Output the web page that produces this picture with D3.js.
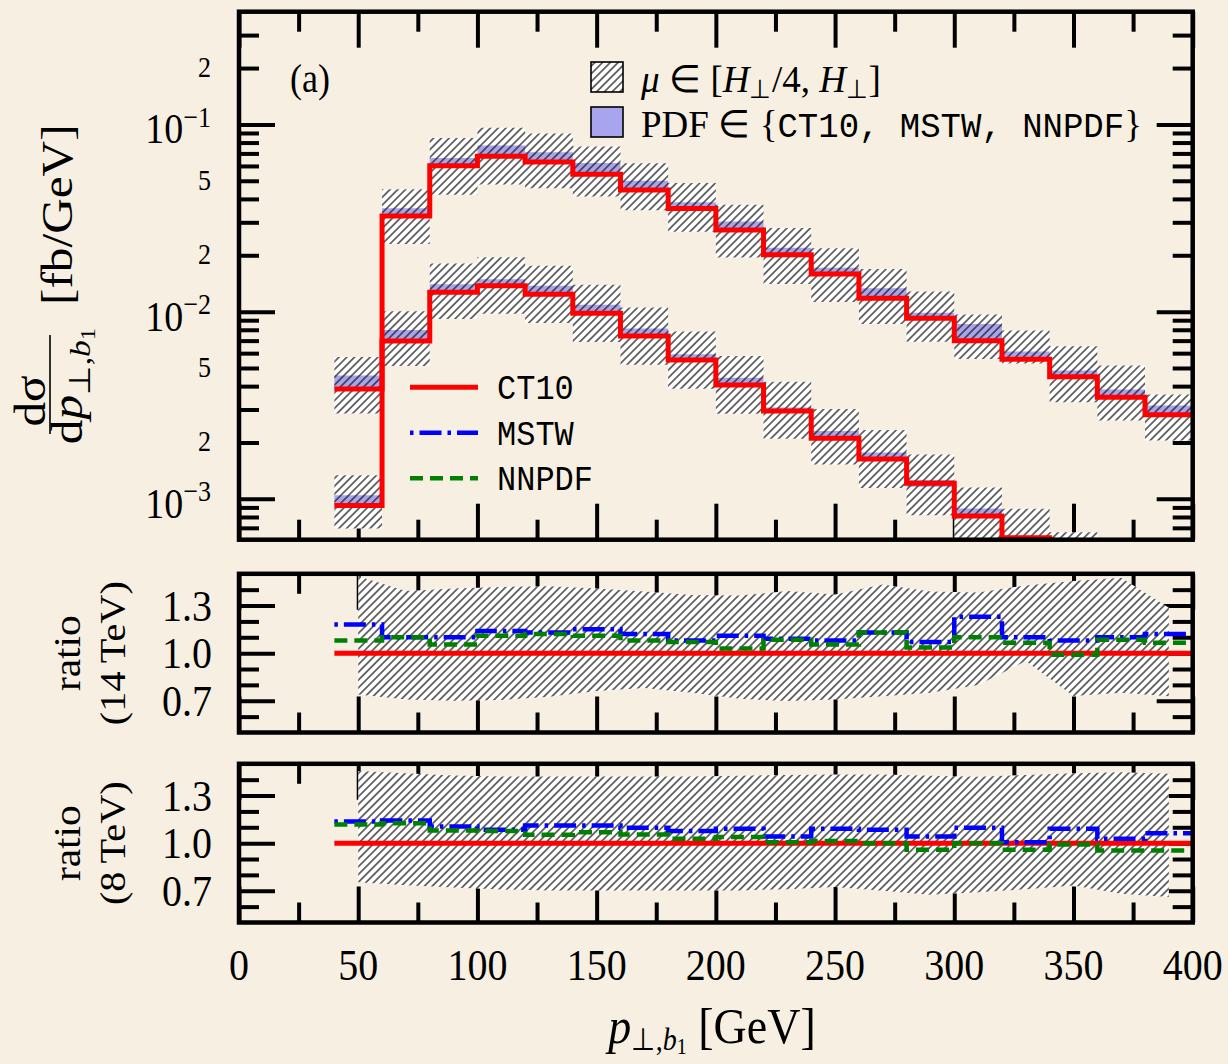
<!DOCTYPE html>
<html>
<head>
<meta charset="utf-8">
<script src="https://cdn.jsdelivr.net/npm/d3@7"></script>
<style>
  html, body { margin: 0; padding: 0; background: #f7f0e2; }
  svg { display: block; }
  text { font-family: "Liberation Serif", "Times New Roman", serif; fill: #000; }
  .tt { font-family: "Liberation Mono", "DejaVu Sans Mono", monospace; }
</style>
</head>
<body>
<svg id="chart" width="1228" height="1064"></svg>
<script>
// ---- data -------------------------------------------------------------
// lower edges of the 20 GeV wide p_T bins
const binLo = [40, 60, 80, 100, 120, 140, 160, 180, 200, 220, 240, 260, 280, 300, 320, 340, 360, 380];
const binHi = 400;

// CT10 central prediction dsigma/dpT [fb/GeV]
const ct10_14TeV = [0.00386, 0.0324, 0.0601, 0.0677, 0.0629, 0.0541, 0.0446, 0.0356, 0.0273, 0.0201,
                    0.0159, 0.0118, 0.00921, 0.00699, 0.00556, 0.00449, 0.00349, 0.00281];
const ct10_8TeV  = [0.00092, 0.00697, 0.01268, 0.01374, 0.01237, 0.00979, 0.00741, 0.00551, 0.00406, 0.00295,
                    0.00211, 0.00163, 0.00121, 0.00081, 0.00062, 0.00046, 0.00034, 0.00026];

// other PDF sets relative to CT10
const mstw_14TeV  = [1.18, 1.10, 1.10, 1.14, 1.13, 1.15, 1.12, 1.08, 1.11, 1.09, 1.08, 1.13, 1.07, 1.23, 1.10, 1.08, 1.10, 1.12];
const nnpdf_14TeV = [1.08, 1.10, 1.055, 1.11, 1.12, 1.11, 1.08, 1.07, 1.03, 1.085, 1.055, 1.13, 1.035, 1.10, 1.065, 0.99, 1.085, 1.065];
const mstw_8TeV   = [1.137, 1.143, 1.105, 1.084, 1.112, 1.112, 1.097, 1.076, 1.091, 1.042, 1.091, 1.084, 1.042, 1.097, 1.006, 1.091, 1.028, 1.063];
const nnpdf_8TeV  = [1.118, 1.126, 1.080, 1.076, 1.053, 1.069, 1.055, 1.028, 1.038, 1.006, 1.013, 1.000, 0.958, 1.000, 0.958, 0.992, 0.954, 0.954];

// scale variation mu in [H/4, H], relative to the central scale
const scaleUp_14TeV   = [1.485, 1.391, 1.408, 1.417, 1.422, 1.408, 1.389, 1.367, 1.364, 1.391, 1.370, 1.433, 1.389, 1.382, 1.427, 1.454, 1.475, 1.286];
const scaleDown_14TeV = [0.740, 0.708, 0.700, 0.705, 0.725, 0.762, 0.780, 0.750, 0.712, 0.698, 0.708, 0.728, 0.750, 0.800, 0.950, 0.730, 0.750, 0.729];
const scaleUp_8TeV    = [1.454, 1.440, 1.427, 1.420, 1.420, 1.420, 1.420, 1.420, 1.425, 1.430, 1.432, 1.432, 1.425, 1.418, 1.430, 1.440, 1.447, 1.437];
const scaleDown_8TeV  = [0.754, 0.735, 0.720, 0.708, 0.702, 0.702, 0.702, 0.702, 0.702, 0.710, 0.723, 0.700, 0.675, 0.690, 0.710, 0.733, 0.681, 0.660];

// axis ticks
const xMajor = [0, 50, 100, 150, 200, 250, 300, 350, 400];
const xMinor = [25, 75, 125, 175, 225, 275, 325, 375];
const logMajor = [1e-3, 1e-2, 1e-1];
const logLabelled = [2e-3, 5e-3, 2e-2, 5e-2, 2e-1];
const ratioMajor = [0.7, 1.0, 1.3];
const ratioMinor = [0.6, 0.8, 0.9, 1.1, 1.2, 1.4];

// ---- styling ----------------------------------------------------------
const BG = "#f7f0e2";
const RED = "#ff0000", BLUE = "#0000ff", GREEN = "#008000", PURPLE = "#a8a4ee";
const STRETCH = 1.12;   // glyphs are a little taller than wide in this figure

const svg = d3.select("#chart");
svg.append("rect").attr("width", 1228).attr("height", 1064).attr("fill", BG);

const defs = svg.append("defs");
const pat = defs.append("pattern")
  .attr("id", "hatch").attr("patternUnits", "userSpaceOnUse")
  .attr("width", 5.5).attr("height", 5.5)
  .attr("patternTransform", "rotate(45)");
pat.append("line").attr("x1", 2.75).attr("y1", -1).attr("x2", 2.75).attr("y2", 6.5)
  .attr("stroke", "#1a1a1a").attr("stroke-width", 1.25);

const x = d3.scaleLinear().domain([0, 400]).range([239, 1192.7]);

const panels = [
  { id: "main", y: d3.scaleLog().domain([6.05e-4, 0.4]).range([539.7, 11.7]) },
  { id: "r14",  y: d3.scaleLinear().domain([0.5, 1.5]).range([732.5, 573.8]) },
  { id: "r8",   y: d3.scaleLinear().domain([0.5, 1.5]).range([922.5, 763.8]) }
];

panels.forEach(p => {
  const [y0, y1] = p.y.range();
  p.top = y1; p.bottom = y0;
  defs.append("clipPath").attr("id", "clip-" + p.id)
    .append("rect").attr("x", x(0)).attr("y", y1).attr("width", x(400) - x(0)).attr("height", y0 - y1);
});

function styleAxis(sel) {
  sel.select(".domain").remove();
  sel.selectAll(".tick line").attr("stroke", "#000").attr("stroke-width", 4);
  sel.selectAll(".tick text").remove();
}

function drawTicks(p, yMajorVals, yMinorVals) {
  const g = svg.append("g");
  [[xMajor, 36], [xMinor, 20]].forEach(([vals, len]) => {
    g.append("g").attr("transform", `translate(0,${p.bottom})`)
      .call(d3.axisBottom(x).tickValues(vals).tickSize(-len)).call(styleAxis);
    g.append("g").attr("transform", `translate(0,${p.top})`)
      .call(d3.axisTop(x).tickValues(vals).tickSize(-len)).call(styleAxis);
  });
  [[yMajorVals, 36], [yMinorVals, 20]].forEach(([vals, len]) => {
    g.append("g").attr("transform", `translate(${x(0)},0)`)
      .call(d3.axisLeft(p.y).tickValues(vals).tickSize(-len)).call(styleAxis);
    g.append("g").attr("transform", `translate(${x(400)},0)`)
      .call(d3.axisRight(p.y).tickValues(vals).tickSize(-len)).call(styleAxis);
  });
}

function frame(p) {
  svg.append("rect").attr("x", x(0)).attr("y", p.top)
    .attr("width", x(400) - x(0)).attr("height", p.bottom - p.top)
    .attr("fill", "none").attr("stroke", "#000").attr("stroke-width", 4.5);
}

function txt(parent, px, py, size, anchor, rotate, stretch) {
  const s = stretch === undefined ? STRETCH : stretch;
  return parent.append("text")
    .attr("transform", `translate(${px},${py}) scale(1,${s})` + (rotate ? " rotate(-90)" : ""))
    .attr("text-anchor", anchor || "start")
    .style("font-size", size + "px");
}

// step helpers: one point per bin edge, horizontal first
const stepPts = vals => binLo.map((lo, i) => [lo, vals[i]]).concat([[binHi, vals[vals.length - 1]]]);

// ---- main panel -------------------------------------------------------
const pm = panels[0];
const logMinor = [];
[1e-4, 1e-3, 1e-2, 1e-1].forEach(d => { for (let k = 2; k <= 9; k++) logMinor.push(k * d); });
const domM = pm.y.domain();
drawTicks(pm, logMajor, logMinor.filter(v => v > domM[0] * 1.001 && v < domM[1] * 0.999));

const gMain = svg.append("g").attr("clip-path", "url(#clip-main)");
const stepArea = d3.area().curve(d3.curveStepAfter)
  .x(d => x(d[0])).y0(d => pm.y(d[1])).y1(d => pm.y(d[2]));
const stepLine = d3.line().curve(d3.curveStepAfter).x(d => x(d[0])).y(d => pm.y(d[1]));

const energies = [
  { ct: ct10_14TeV, m: mstw_14TeV, n: nnpdf_14TeV, up: scaleUp_14TeV, dn: scaleDown_14TeV },
  { ct: ct10_8TeV,  m: mstw_8TeV,  n: nnpdf_8TeV,  up: scaleUp_8TeV,  dn: scaleDown_8TeV }
];

energies.forEach(e => {
  const band = e.ct.map((c, i) => [binLo[i], c * e.dn[i], c * e.up[i]]);
  band.push([binHi, band[band.length - 1][1], band[band.length - 1][2]]);
  const pdf = e.ct.map((c, i) => [binLo[i], c * Math.min(1, e.m[i], e.n[i]), c * Math.max(1, e.m[i], e.n[i])]);
  pdf.push([binHi, pdf[pdf.length - 1][1], pdf[pdf.length - 1][2]]);
  gMain.append("path").attr("d", stepArea(band)).attr("fill", "#ffffff");
  gMain.append("path").attr("d", stepArea(pdf)).attr("fill", PURPLE);
  gMain.append("path").attr("d", stepArea(band)).attr("fill", "url(#hatch)");
});
energies.forEach(e => {
  gMain.append("path").attr("d", stepLine(stepPts(e.ct)))
    .attr("fill", "none").attr("stroke", RED).attr("stroke-width", 5);
});
frame(pm);

// y tick labels (log)
const gLab = svg.append("g");
logMajor.forEach(v => {
  const t = txt(gLab, 211, pm.y(v) + 19, 38, "end");
  t.append("tspan").text("10");
  t.append("tspan").attr("dy", -15).style("font-size", "26px").text("\u2212" + Math.round(-Math.log10(v)));
});
logLabelled.forEach(v => {
  txt(gLab, 211, pm.y(v) + 9, 26, "end").text(String(Math.round(v / Math.pow(10, Math.floor(Math.log10(v) + 1e-9)))));
});

// panel tag
txt(gLab, 290, 92, 36).text("(a)");

// band legend
const gLeg = svg.append("g");
gLeg.append("rect").attr("x", 591).attr("y", 62).attr("width", 32).attr("height", 30).attr("fill", "#fff");
gLeg.append("rect").attr("x", 591).attr("y", 62).attr("width", 32).attr("height", 30)
  .attr("fill", "url(#hatch)").attr("stroke", "#000").attr("stroke-width", 1.6);
gLeg.append("rect").attr("x", 591).attr("y", 107).attr("width", 32).attr("height", 30)
  .attr("fill", PURPLE).attr("stroke", "#000").attr("stroke-width", 1.6);

const l1 = txt(gLeg, 641, 92, 37, "start", false, 1.04);
l1.append("tspan").style("font-style", "italic").text("\u03bc");
l1.append("tspan").text(" \u2208 [");
l1.append("tspan").style("font-style", "italic").text("H");
l1.append("tspan").attr("dy", 6).style("font-size", "25px").text("\u22a5");
l1.append("tspan").attr("dy", -6).text("/4, ");
l1.append("tspan").style("font-style", "italic").text("H");
l1.append("tspan").attr("dy", 6).style("font-size", "25px").text("\u22a5");
l1.append("tspan").attr("dy", -6).text("]");

const l2 = txt(gLeg, 641, 137, 37, "start", false, 1.04).attr("xml:space", "preserve").style("white-space", "pre");
l2.append("tspan").text("PDF \u2208 {");
l2.append("tspan").attr("class", "tt").style("font-size", "34px").text("CT10, MSTW, NNPDF");
l2.append("tspan").text("}");

// line legend
const lineLegend = [
  { name: "CT10",  color: RED,   dash: null,         y: 387.3, w: 5 },
  { name: "MSTW",  color: BLUE,  dash: "3.5,6,22,6", y: 432.7, w: 4.5 },
  { name: "NNPDF", color: GREEN, dash: "13,7",       y: 478.3, w: 4.5 }
];
lineLegend.forEach(d => {
  gLeg.append("line").attr("x1", 410).attr("x2", 478).attr("y1", d.y).attr("y2", d.y)
    .attr("stroke", d.color).attr("stroke-width", d.w).attr("stroke-dasharray", d.dash);
  txt(gLeg, 497, d.y + 12, 32).attr("class", "tt").text(d.name);
});

// ---- ratio panels -----------------------------------------------------
const ratioSets = [
  { p: panels[1], e: energies[0], label: "(14\u2009TeV)" },
  { p: panels[2], e: energies[1], label: "(8\u2009TeV)" }
];

ratioSets.forEach(r => {
  const p = r.p, e = r.e;
  drawTicks(p, ratioMajor, ratioMinor);
  const g = svg.append("g").attr("clip-path", `url(#clip-${p.id})`);
  const centres = binLo.map((lo, i) => ({ c: lo + 10, up: e.up[i], dn: e.dn[i] }));
  const bandArea = d3.area().x(d => x(d.c)).y0(d => p.y(d.dn)).y1(d => p.y(d.up));
  g.append("path").attr("d", bandArea(centres)).attr("fill", "#ffffff");
  g.append("path").attr("d", bandArea(centres)).attr("fill", "url(#hatch)");

  const line = d3.line().curve(d3.curveStepAfter).x(d => x(d[0])).y(d => p.y(d[1]));
  g.append("path").attr("d", line(stepPts(e.ct.map(() => 1))))
    .attr("fill", "none").attr("stroke", RED).attr("stroke-width", 5);
  g.append("path").attr("d", line(stepPts(e.m)))
    .attr("fill", "none").attr("stroke", BLUE).attr("stroke-width", 4.5).attr("stroke-dasharray", "3.5,6,22,6");
  g.append("path").attr("d", line(stepPts(e.n)))
    .attr("fill", "none").attr("stroke", GREEN).attr("stroke-width", 4.5).attr("stroke-dasharray", "13,7");
  frame(p);

  ratioMajor.forEach(v => txt(gLab, 212, p.y(v) + 15, 40, "end").text(v.toFixed(1)));
  const mid = p.y(1.0);
  txt(gLab, 80, mid, 37, "middle", true).text("ratio");
  txt(gLab, 125, mid, 36, "middle", true).text(r.label);
});

// ---- x axis labels ----------------------------------------------------
xMajor.forEach(v => txt(gLab, x(v), 980, 40, "middle").text(String(v)));

const xl = txt(gLab, 712, 1043, 46, "middle");
xl.append("tspan").style("font-style", "italic").text("p");
xl.append("tspan").attr("dy", 6).style("font-size", "28px").text("\u22a5,");
xl.append("tspan").style("font-size", "28px").style("font-style", "italic").text("b");
xl.append("tspan").attr("dy", 4).style("font-size", "20px").text("1");
xl.append("tspan").attr("dy", -10).text(" [GeV]");

// ---- y axis label: fraction plus unit ----------------------------------
const yl = svg.append("g");
txt(yl, 72, 305, 44, "start", true).text("[fb/GeV]");
txt(yl, 45, 401, 44, "middle", true).append("tspan").text("d\u03c3");
yl.append("line").attr("x1", 50).attr("x2", 50).attr("y1", 335).attr("y2", 434)
  .attr("stroke", "#000").attr("stroke-width", 1.6);
const den = txt(yl, 82, 386, 44, "middle", true);
den.append("tspan").text("d");
den.append("tspan").style("font-style", "italic").text("p");
den.append("tspan").attr("dy", 8).style("font-size", "30px").text("\u22a5,");
den.append("tspan").style("font-size", "30px").style("font-style", "italic").text("b");
den.append("tspan").attr("dy", 5).style("font-size", "22px").text("1");
</script>
</body>
</html>
